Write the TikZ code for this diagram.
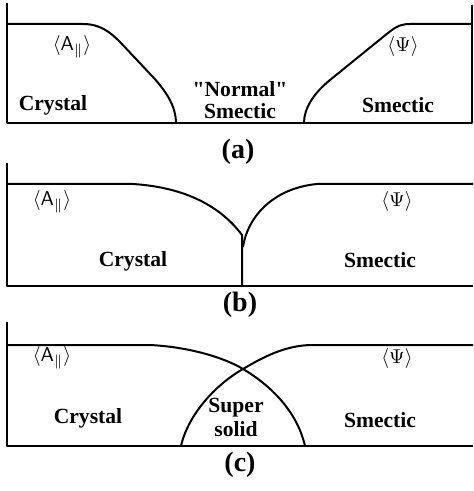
\documentclass[tikz,border=0pt]{standalone}
\usepackage{fontspec}
\setmainfont{Liberation Serif}[Ligatures=TeXOff]
\usetikzlibrary{positioning}
\tikzset{
  phase/.style={font=\bfseries\fontsize{10.8}{12}\selectfont,align=center,inner sep=0pt},
  order/.style={font=\fontsize{10}{12}\selectfont,inner sep=0pt},
  panel/.style={font=\bfseries\fontsize{14}{16}\selectfont,inner sep=0pt},
  curve/.style={line width=1pt,line join=round}
}
\newcommand{\ordA}{$\langle\mathsf{A}_{\parallel}\rangle$}
\newcommand{\ordPsi}{$\langle\Psi\rangle$}

\begin{document}
\begin{tikzpicture}[x=0.5pt,y=-0.5pt]
\useasboundingbox (0,0) rectangle (473,491);

% (a)
\draw[curve] (7,3) -- (7,123) -- (472,123) -- (472,5);
\draw[curve] (7,24) -- (83,24) .. controls (100,24) and (110,32) .. (120,42)
  -- (152,76) .. controls (168,93) and (176,108) .. (176,123);
\draw[curve] (304,123) .. controls (304,108) and (314,93) .. (330,80)
  -- (383,37) .. controls (393,29) and (398,24) .. (410,24) -- (472,24);
\node[order] (aA) at (72,47) {\ordA};
\node[order] (aPsi) at (403,47) {\ordPsi};
\node[phase] (aCr) at (53,105) {Crystal};
\node[phase,font=\bfseries\fontsize{10.8}{11}\selectfont] (aNs) at (240,100) {"Normal"\\Smectic};
\node[phase] (aSm) at (398,105) {Smectic};
\node[panel] (la) at (238,152) {(a)};

% (b)
\draw[curve] (7,163) -- (7,286) -- (473,286);
\draw[curve] (7,184) -- (133,184) .. controls (180,187) and (218,203) .. (242,235) -- (242,286);
\draw[curve] (243,247) .. controls (248,215) and (275,188) .. (317,184) -- (473,184);
\node[order] (bA) at (52,202) {\ordA};
\node[order] (bPsi) at (397,202) {\ordPsi};
\node[phase] (bCr) at (133,261) {Crystal};
\node[phase] (bSm) at (380,260) {Smectic};
\node[panel] (lb) at (240,305) {(b)};

% (c)
\draw[curve] (7,322) -- (7,446) -- (473,446);
\draw[curve] (7,345) -- (150,345) .. controls (190,347) and (225,358) .. (243,369)
  .. controls (275,388) and (298,415) .. (305,446);
\draw[curve] (181,446) .. controls (188,415) and (215,385) .. (243,369)
  .. controls (265,356) and (285,346) .. (310,345) -- (473,345);
\node[order] (cA) at (52,358) {\ordA};
\node[order] (cPsi) at (397,358) {\ordPsi};
\node[phase] (cCr) at (88,418) {Crystal};
\node[phase,font=\bfseries\fontsize{10.8}{12}\selectfont] (cSs) at (236,417) {Super\\solid};
\node[phase] (cSm) at (380,420) {Smectic};
\node[panel] (lc) at (240,465) {(c)};
\end{tikzpicture}
\end{document}
